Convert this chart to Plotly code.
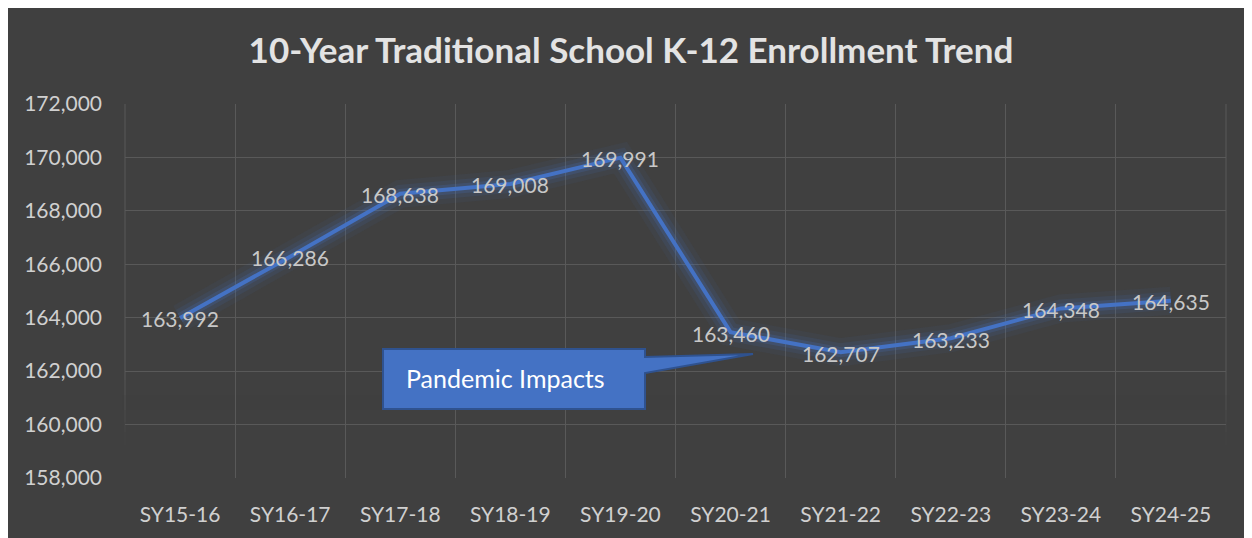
import plotly.graph_objects as go

years = ['SY15-16', 'SY16-17', 'SY17-18', 'SY18-19', 'SY19-20',
         'SY20-21', 'SY21-22', 'SY22-23', 'SY23-24', 'SY24-25']
enrollment = [163992, 166286, 168638, 169008, 169991,
              163460, 162707, 163233, 164348, 164635]
y_ticks = [158000, 160000, 162000, 164000, 166000, 168000, 170000, 172000]

W, H = 1252, 538
OFF = 8  # page body margin; positions below are screen pixels
L, R, T, B = 125 - OFF, W - (1226 - OFF), 104 - OFF, H - (478 - OFF)
PW, PH = W - L - R, H - T - B
bg = '#404040'
grid = '#595959'
blue = '#4472C4'
font = 'Lato, Calibri, Open Sans, sans-serif'


def px(x):
    return (x - OFF - L) / PW


def py(y):
    return (H - B - (y - OFF)) / PH


fig = go.Figure()

# soft glow under the line
for w, a in [(28, 0.06), (18, 0.11), (10, 0.2)]:
    fig.add_trace(go.Scatter(x=years, y=enrollment, mode='lines', hoverinfo='skip',
                             line=dict(color='rgba(68,114,196,%s)' % a, width=w)))

fig.add_trace(go.Scatter(x=years, y=enrollment, mode='lines',
                         line=dict(color=blue, width=4)))

# data labels centred on the points
labels = [dict(x=c, y=v, text='{:,}'.format(v), showarrow=False, yshift=-1,
               font=dict(family=font, size=21, color='#c8c8c8'))
          for c, v in zip(years, enrollment)]

shapes = []
# outer vertical borders of the grid
for xe in (0, 1):
    shapes.append(dict(type='line', xref='paper', yref='paper', x0=xe, x1=xe, y0=0, y1=1,
                       line=dict(color=grid, width=1), layer='below'))

# fade the gridlines toward the bottom
bands = [(380, 395, 0.15), (395, 410, 0.35), (410, 422, 0.55), (422, 432, 0.72),
         (432, 445, 0.88), (445, 484, 1.0)]
for y0, y1, a in bands:
    shapes.append(dict(type='rect', xref='paper', yref='paper', x0=px(122), x1=px(1230),
                       y0=py(y1), y1=py(y0), fillcolor='rgba(64,64,64,%s)' % a,
                       line=dict(width=0), layer='between'))

# callout box with pointer
pts = [(383, 349), (645, 349), (645, 357), (753, 354), (645, 373), (645, 409), (383, 409)]
path = 'M ' + ' L '.join('%f,%f' % (px(a), py(b)) for a, b in pts) + ' Z'
shapes.append(dict(type='path', xref='paper', yref='paper', path=path,
                   fillcolor=blue, line=dict(color='#2F528F', width=2), layer='above'))

fig.update_layout(
    width=W, height=H,
    margin=dict(l=L, r=R, t=T, b=B),
    paper_bgcolor=bg, plot_bgcolor=bg,
    showlegend=False,
    title=dict(text='<b>10-Year Traditional School K-12 Enrollment Trend</b>',
               x=(631 - OFF) / W, xanchor='center', y=1 - (51 - OFF) / H, yanchor='middle',
               font=dict(family=font, size=35, color='#e3e3e3')),
    shapes=shapes,
    annotations=labels + [dict(text='Pandemic Impacts', xref='paper', yref='paper',
                               x=px(404), y=py(378), xanchor='left', yanchor='middle',
                               showarrow=False, font=dict(family=font, size=25, color='white'))],
)

fig.update_xaxes(type='category', tickson='boundaries', range=[-0.5, 9.5],
                 showgrid=True, gridcolor=grid,
                 gridwidth=1, showline=False, zeroline=False, ticks='',
                 ticklabelstandoff=22,
                 tickfont=dict(family=font, size=21, color='#d0d0d0'))
fig.update_yaxes(range=[158000, 172000], tickvals=y_ticks, tickformat=',',
                 showgrid=True, gridcolor=grid, gridwidth=1, zeroline=False,
                 showline=False, ticks='', ticklabelstandoff=22,
                 tickfont=dict(family=font, size=21, color='#d0d0d0'))

fig.write_html('out.html')
